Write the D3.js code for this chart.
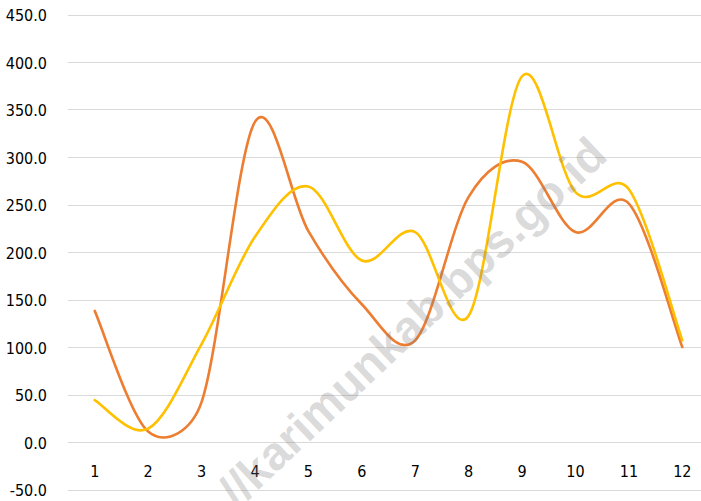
<!DOCTYPE html>
<html>
<head>
<meta charset="utf-8">
<script src="https://cdn.jsdelivr.net/npm/d3@7/dist/d3.min.js"></script>
<style>
  html, body { margin: 0; padding: 0; background: #fff; }
  svg { display: block; }
  .lbl { font-family: "DejaVu Sans Condensed", "Liberation Sans Narrow", "DejaVu Sans", sans-serif; font-stretch: condensed; font-size: 16px; fill: #000; }
</style>
</head>
<body>
<svg id="chart" width="701" height="501"></svg>
<script>
const categories = ["1","2","3","4","5","6","7","8","9","10","11","12"];
const seriesOrange = [138, 11, 42, 337, 222, 145, 107, 258, 295, 221, 251, 100];
const seriesYellow = [44, 14, 103, 216, 269, 191, 221, 133, 385, 263, 266, 107];
const yTicks = [-50, 0, 50, 100, 150, 200, 250, 300, 350, 400, 450];
const watermarkText = "//karimunkab.bps.go.id";

const svg = d3.select("#chart");
const plotLeft = 68, plotRight = 709;

const x = d3.scaleBand().domain(categories).range([plotLeft, plotRight]);
const y = d3.scaleLinear().domain([-50, 450]).range([489.5, 14.5]);

// Excel-style smoothed line: Bezier with control offsets limited to half the segment length
function ExcelCurve(context) { this._context = context; }
ExcelCurve.prototype = {
  areaStart() { this._line = 0; }, areaEnd() { this._line = NaN; },
  lineStart() { this._pts = []; },
  point(px, py) { this._pts.push([px, py]); },
  lineEnd() {
    const p = this._pts, c = this._context, n = p.length;
    if (!n) return;
    c.moveTo(p[0][0], p[0][1]);
    const dist = (a, b) => Math.hypot(b[0] - a[0], b[1] - a[1]);
    for (let i = 0; i < n - 1; i++) {
      const p0 = p[i - 1] || p[i], p1 = p[i], p2 = p[i + 1], p3 = p[i + 2] || p[i + 1];
      const d12 = dist(p1, p2), d02 = dist(p0, p2), d13 = dist(p1, p3);
      let f0 = 1 / 6, f1 = 1 / 6;
      if (d02 * f0 > d12 / 2) f0 = d12 / 2 / d02;
      if (d13 * f1 > d12 / 2) f1 = d12 / 2 / d13;
      c.bezierCurveTo(
        p1[0] + f0 * (p2[0] - p0[0]), p1[1] + f0 * (p2[1] - p0[1]),
        p2[0] - f1 * (p3[0] - p1[0]), p2[1] - f1 * (p3[1] - p1[1]),
        p2[0], p2[1]);
    }
  }
};
const curveExcel = ctx => new ExcelCurve(ctx);

// gridlines
svg.append("g").selectAll("line").data(yTicks).join("line")
  .attr("x1", plotLeft).attr("x2", plotRight)
  .attr("y1", d => Math.round(y(d)) + 0.5).attr("y2", d => Math.round(y(d)) + 0.5)
  .attr("stroke", "#d9d9d9").attr("stroke-width", 1);

// y labels
svg.append("g").selectAll("text").data(yTicks).join("text")
  .attr("class", "lbl")
  .attr("x", 47).attr("y", d => y(d) + 1)
  .attr("text-anchor", "end").attr("dominant-baseline", "central")
  .text(d => d.toFixed(1));

// x labels
svg.append("g").selectAll("text").data(categories).join("text")
  .attr("class", "lbl")
  .attr("x", d => x(d) + x.bandwidth() / 2).attr("y", 471)
  .attr("text-anchor", "middle").attr("dominant-baseline", "central")
  .text(d => d);

const line = d3.line()
  .x((d, i) => x(categories[i]) + x.bandwidth() / 2)
  .y(d => y(d))
  .curve(curveExcel);

svg.append("path").datum(seriesOrange)
  .attr("d", line).attr("fill", "none")
  .attr("stroke", "#ED7D31").attr("stroke-width", 2.6)
  .attr("stroke-linecap", "round").attr("stroke-linejoin", "round");

svg.append("path").datum(seriesYellow)
  .attr("d", line).attr("fill", "none")
  .attr("stroke", "#FFC000").attr("stroke-width", 2.6)
  .attr("stroke-linecap", "round").attr("stroke-linejoin", "round");

// watermark
svg.append("text")
  .attr("transform", "translate(412,322) rotate(-43.4)")
  .attr("text-anchor", "middle").attr("dominant-baseline", "central")
  .attr("font-family", "Liberation Sans, Arial, sans-serif")
  .attr("font-weight", "bold").attr("font-size", 47)
  .attr("fill", "#7f7f7f").attr("fill-opacity", 0.3)
  .text(watermarkText);
</script>
</body>
</html>
